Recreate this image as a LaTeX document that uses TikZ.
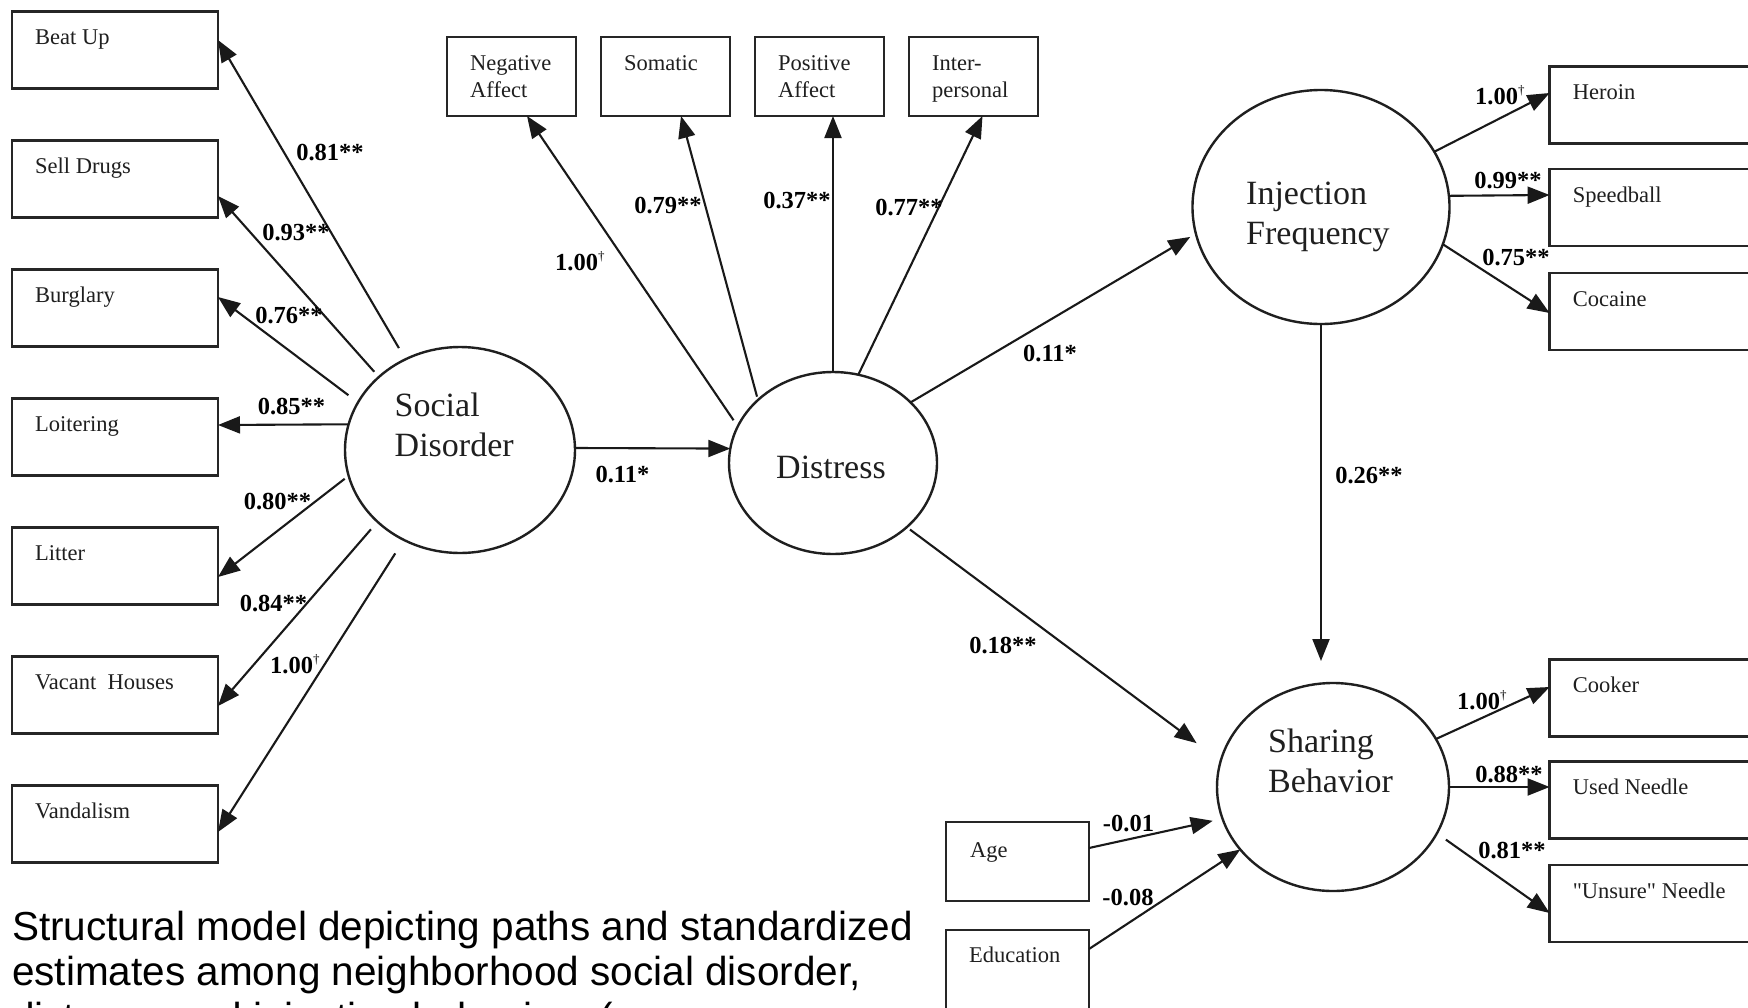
\documentclass[tikz,border=0pt]{standalone}
\usepackage{fontspec}
\setmainfont{Liberation Serif}
\newfontfamily\capfont{Liberation Sans}
% same serif without TeX ligature mapping, for a straight double quote
\newfontfamily\plainserif{Liberation Serif}
\usetikzlibrary{arrows.meta,shapes.geometric,calc}

% two left-aligned lines whose first baseline is the node baseline
\newcommand{\twoline}[2]{\begin{tabular}[t]{@{}l@{}}#1\\#2\end{tabular}}
% small dagger for fixed loadings
\newcommand{\fixd}{\raisebox{10pt}{\mdseries\fontsize{13}{13}\selectfont\dag}}
% straight double quote
\newcommand{\sq}{{\plainserif"}}

\begin{document}
\begin{tikzpicture}[x=1pt,y=-1pt,
  obsbox/.style={draw=black!85, line width=2.6pt, rectangle, inner sep=0pt, outer sep=0pt},
  itembox/.style={obsbox, minimum width=206pt, minimum height=77pt},
  topbox/.style={obsbox, minimum width=129pt, minimum height=79pt},
  rbox/.style={obsbox, minimum width=260pt, minimum height=77pt},
  covbox/.style={obsbox, minimum width=143pt, minimum height=79pt},
  latent/.style={draw=black!88, line width=2.4pt, ellipse, inner sep=0pt, outer sep=0pt},
  itemtxt/.style={anchor=base west, inner sep=0pt, font=\fontsize{22.5}{27}\selectfont, text=black!88},
  lattxt/.style={anchor=base west, inner sep=0pt, font=\fontsize{34}{40.5}\selectfont, text=black!88},
  coef/.style={anchor=base, inner sep=0pt, font=\bfseries\fontsize{24.5}{29}\selectfont},
  coefd/.style={coef, anchor=base west},
  link/.style={draw=black!90, line width=2.1pt, -{Triangle[length=22pt,width=17pt]}},
  capt/.style={anchor=base west, inner sep=0pt, font=\capfont\fontsize{40.5}{45.5}\selectfont}
]
\useasboundingbox (0,0) rectangle (1748,1007);
\clip (0,0) rectangle (1748,1007);
\fill[white] (0,0) rectangle (1748,1007);

% ---------- latent variables ----------
\node[latent, minimum width=230pt, minimum height=206pt] (sd)  at (460,450) {};
\node[latent, minimum width=208pt, minimum height=182pt] (ds)  at (833,463) {};
\node[latent, minimum width=257pt, minimum height=234pt] (inj) at (1321,207) {};
\node[latent, minimum width=232pt, minimum height=208pt] (shr) at (1333,787) {};

\node[lattxt] (sdt)  at ([shift={(-65.5,-34)}]sd.center)  {\twoline{Social}{Disorder}};
\node[lattxt] (dst)  at ([shift={(-57,15)}]ds.center)     {Distress};
\node[lattxt] (injt) at ([shift={(-75,-3)}]inj.center)    {\twoline{Injection}{Frequency}};
\node[lattxt] (shrt) at ([shift={(-65,-35)}]shr.center)   {\twoline{Sharing}{Behavior}};

% ---------- social disorder indicators ----------
\node[itembox] (beat)   at (115,50)  {};
\node[itembox] (sell)   at (115,179) {};
\node[itembox] (burg)   at (115,308) {};
\node[itembox] (loit)   at (115,437) {};
\node[itembox] (litt)   at (115,566) {};
\node[itembox] (vacant) at (115,695) {};
\node[itembox] (vand)   at (115,824) {};
\node[itemtxt] (beatt)   at ([shift={(23,33)}]beat.north west)   {Beat Up};
\node[itemtxt] (sellt)   at ([shift={(23,33)}]sell.north west)   {Sell Drugs};
\node[itemtxt] (burgt)   at ([shift={(23,33)}]burg.north west)   {Burglary};
\node[itemtxt] (loitt)   at ([shift={(23,33)}]loit.north west)   {Loitering};
\node[itemtxt] (littt)   at ([shift={(23,33)}]litt.north west)   {Litter};
\node[itemtxt] (vacantt) at ([shift={(23,33)}]vacant.north west) {Vacant\ \ Houses};
\node[itemtxt] (vandt)   at ([shift={(23,33)}]vand.north west)   {Vandalism};

% ---------- distress indicators ----------
\node[topbox] (neg)   at (511.5,76.5) {};
\node[topbox] (som)   at (665.5,76.5) {};
\node[topbox] (pos)   at (819.5,76.5) {};
\node[topbox] (inter) at (973.5,76.5) {};
\node[itemtxt] (negt)   at ([shift={(23,33)}]neg.north west)   {\twoline{Negative}{Affect}};
\node[itemtxt] (somt)   at ([shift={(23,33)}]som.north west)   {Somatic};
\node[itemtxt] (post)   at ([shift={(23,33)}]pos.north west)   {\twoline{Positive}{Affect}};
\node[itemtxt] (intert) at ([shift={(23,33)}]inter.north west) {\twoline{Inter-}{personal}};

% ---------- injection indicators ----------
\node[rbox] (her) at (1679.6,105)   {};
\node[rbox] (spd) at (1679.6,207.5) {};
\node[rbox] (coc) at (1679.6,311.5) {};
\node[itemtxt] (hert) at ([shift={(23,33)}]her.north west) {Heroin};
\node[itemtxt] (spdt) at ([shift={(23,33)}]spd.north west) {Speedball};
\node[itemtxt] (coct) at ([shift={(23,33)}]coc.north west) {Cocaine};

% ---------- sharing indicators ----------
\node[rbox] (cook)   at (1679.6,698)   {};
\node[rbox] (used)   at (1679.6,800)   {};
\node[rbox] (unsure) at (1679.6,903.5) {};
\node[itemtxt] (cookt)   at ([shift={(23,33)}]cook.north west)   {Cooker};
\node[itemtxt] (usedt)   at ([shift={(23,33)}]used.north west)   {Used Needle};
\node[itemtxt] (unsuret) at ([shift={(23,33)}]unsure.north west) {\sq Unsure\sq{} Needle};

% ---------- covariates ----------
\node[covbox] (age) at (1017.5,861.5) {};
\node[covbox] (edu) at (1017.5,969.5) {};
\node[itemtxt] (aget) at ([shift={(24,35)}]age.north west) {Age};
\node[itemtxt] (edut) at ([shift={(23,32)}]edu.north west) {Education};

% ---------- measurement paths: social disorder ----------
\draw[link, shorten <=13pt] (sd.121.3) -- ([yshift=10pt]beat.east);
\draw[link, shorten <=7pt]  (sd.138.8) -- ([yshift=-17pt]sell.east);
\draw[link, shorten <=12pt] (sd.155.9) -- ([yshift=11pt]burg.east);
\draw[link]                 (sd.167.6) -- ([yshift=12pt]loit.east);
\draw[link, shorten <=5pt]  (sd.193.6) -- ([yshift=-11pt]litt.east);
\draw[link, shorten <=10pt] (sd.221.6) -- ([yshift=-11pt]vacant.east);
\draw[link, shorten <=16pt] (sd.238.4) -- ([yshift=-8pt]vand.east);

% ---------- measurement paths: distress ----------
\draw[link, shorten <=7.5pt] (ds.159.75) -- ([xshift=15.5pt]neg.south);
\draw[link, shorten <=3.5pt] (ds.140.2)  -- ([xshift=15.5pt]som.south);
\draw[link]                  (ds.90)     -- ([xshift=13.5pt]pos.south);
\draw[link]                  (ds.74.1)   -- ([xshift=9pt]inter.south);

% ---------- structural paths ----------
\draw[link] (sd.1.5) -- (ds.172.2);
\draw[link, shorten >=6.5pt] (ds.38.9) -- (inj.192.9);
\draw[link, shorten <=4pt, shorten >=30pt] (ds.-41) -- (shr.167.3);
\draw[link, shorten >=22pt] (inj.south) -- (inj.south |- shr.north);
\draw[link, shorten >=10pt] ([yshift=13.5pt]age.east) -- (shr.196.8);
\draw[link] ([yshift=20.5pt]edu.east) -- (shr.214.7);

% ---------- measurement paths: injection and sharing ----------
\draw[link] (inj.26.5)  -- ([yshift=12pt]her.west);
\draw[link] (inj.5.4)   -- ([yshift=12.5pt]spd.west);
\draw[link] (inj.-17.1) -- ([yshift=-1.5pt]coc.west);
\draw[link] (shr.25.8)  -- ([yshift=11pt]cook.west);
\draw[link] (shr.0)     -- ([yshift=13pt]used.west);
\draw[link, shorten <=11pt] (shr.-24.1) -- ([yshift=-9.5pt]unsure.west);

% ---------- standardized estimates ----------
\node[coef]  (c1)  at (330,160)   {0.81**};
\node[coef]  (c2)  at (296,240)   {0.93**};
\node[coef]  (c3)  at (289,323)   {0.76**};
\node[coef]  (c4)  at (291.5,414) {0.85**};
\node[coef]  (c5)  at (277.5,509) {0.80**};
\node[coef]  (c6)  at (273.5,611) {0.84**};
\node[coefd] (c7)  at (270,673)   {1.00\fixd};
\node[coefd] (c8)  at (555,270)   {1.00\fixd};
\node[coef]  (c9)  at (668,213)   {0.79**};
\node[coef]  (c10) at (797,208)   {0.37**};
\node[coef]  (c11) at (909,215)   {0.77**};
\node[coef]  (c12) at (622.5,482) {0.11*};
\node[coef]  (c13) at (1050,361)  {0.11*};
\node[coef]  (c14) at (1003,653)  {0.18**};
\node[coef]  (c15) at (1369,483)  {0.26**};
\node[coefd] (c16) at (1475,104)  {1.00\fixd};
\node[coef]  (c17) at (1508,188)  {0.99**};
\node[coef]  (c18) at (1516,265)  {0.75**};
\node[coefd] (c19) at (1457,709)  {1.00\fixd};
\node[coef]  (c20) at (1509,782)  {0.88**};
\node[coef]  (c21) at (1512,858)  {0.81**};
\node[coef]  (c22) at (1128.5,831) {-0.01};
\node[coef]  (c23) at (1128,905)  {-0.08};

% ---------- caption (third line runs off the lower edge) ----------
\node[capt] (cap) at (12,940) {\begin{tabular}[t]{@{}l@{}}Structural model depicting paths and standardized\\estimates among neighborhood social disorder,\\distress, and injection behaviors (\end{tabular}};
\end{tikzpicture}
\end{document}
